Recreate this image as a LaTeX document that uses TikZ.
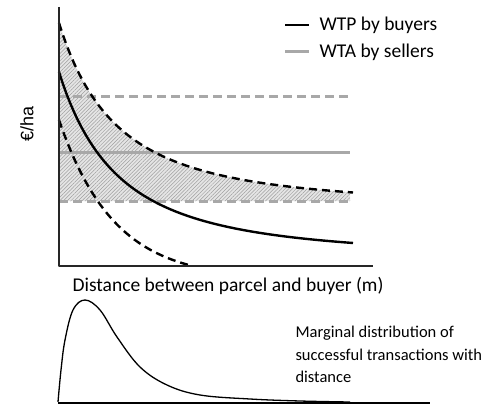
\documentclass[tikz,border=0pt]{standalone}
\usepackage{fontspec}
\setmainfont{Carlito}
\newfontfamily\arialfont{Liberation Sans}
\usetikzlibrary{patterns.meta}
\definecolor{wtagray}{HTML}{A8A8A8}
\tikzset{
  wtp/.style={line width=2.4pt, black},
  wtpband/.style={line width=2.4pt, black, dash pattern=on 8pt off 5pt},
  wta/.style={line width=3pt, wtagray},
  wtaband/.style={line width=3pt, wtagray, dash pattern=on 9pt off 5pt},
  axis/.style={line width=2pt, black!85},
  hatch/.style={pattern={Lines[angle=45, distance=2.6pt, line width=0.5pt]}, pattern color=gray!75}
}
\begin{document}
\begin{tikzpicture}[x=1pt, y=-1pt, line join=round, font=\fontsize{19.5}{22}\selectfont]
	\useasboundingbox (0,0) rectangle (490,404);
	% Axes of the upper plot
	\coordinate (O) at (59,266);
	\coordinate (Ytop) at (59,7);
	\coordinate (Xend) at (373,266);
	
	% Levels of WTA (mean and band)
	\def\xr{350}
	\def\wtahi{96}
	\def\wtamid{152}
	\def\wtalo{201}
	
	% Hatched band between upper WTP bound and lower WTA bound
	\fill[gray!20] plot[domain=59:\xr, samples=60] (\x, {207 - 184/(1+(\x-59)/114.8)^2})
		-- (\xr,\wtalo) -- (59,\wtalo) -- cycle;
	\path[hatch] plot[domain=59:\xr, samples=60] (\x, {207 - 184/(1+(\x-59)/114.8)^2})
		-- (\xr,\wtalo) -- (59,\wtalo) -- cycle;
	
	% WTA by sellers
	\draw[wtaband] (59,\wtahi) -- (\xr,\wtahi);
	\draw[wta] (59,\wtamid) -- (\xr,\wtamid);
	\draw[wtaband] (59,\wtalo) -- (\xr,\wtalo);
	
	% WTP by buyers (mean and band)
	\draw[wtpband] plot[domain=59:353, samples=80] (\x, {207 - 184/(1+(\x-59)/114.8)^2});
	\draw[wtp] plot[domain=59:353, samples=80] (\x, {258 - 186/(1+(\x-59)/116.7)^2});
	\draw[wtpband] plot[domain=59:191, samples=50] (\x, {280 - 160*exp(-(\x-59)/54.8)});
	
	\draw[axis] (Ytop) -- (O) -- (Xend);
	
	% Labels
	\node[rotate=90, font=\arialfont\fontsize{18}{20}\selectfont] (ylab) at (27,124) {€/ha};
	\node (xlab) at (228,286) {Distance between parcel and buyer (m)};
	
	% Legend
	\node[anchor=west] (legwtp) at (316,25) {WTP by buyers};
	\node[anchor=west] (legwta) at (316,52) {WTA by sellers};
	\coordinate (lwtp) at (285,25);
	\coordinate (lwta) at (285,52);
	\draw[wtp] (lwtp) -- ([xshift=-7pt]legwtp.west);
	\draw[wta] (lwta) -- ([xshift=-7pt]legwta.west);
	
	% Marginal distribution of transactions
	\coordinate (B0) at (58,403);
	\coordinate (B1) at (430,403);
	\draw[line width=1.6pt] (B0) -- (B1);
	\draw[line width=1.3pt] plot[smooth, tension=0.6] coordinates {(58,402) (61,370) (65,340) (73,310) (85,300) (100,310) (117,337) (140,367) (167,385) (200,395) (250,399) (300,401) (350,402)};
	\node[anchor=north west, align=left, font=\fontsize{16.5}{22.5}\selectfont] (distlab) at (292,323)
		{Marginal distribution of\\successful transactions with\\distance};
\end{tikzpicture}
\end{document}
